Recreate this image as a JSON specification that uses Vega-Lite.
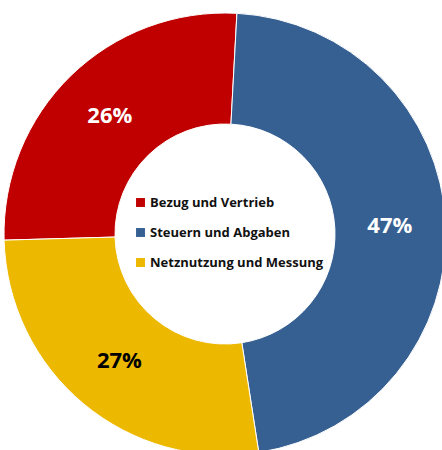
{
  "$schema": "https://vega.github.io/schema/vega-lite/v6.json",
  "width": 450,
  "height": 468,
  "padding": 0,
  "autosize": "none",
  "background": "white",
  "config": {"view": {"stroke": null}},
  "data": {"values": [
    {"category": "Bezug und Vertrieb", "value": 26.3, "label": "26%"},
    {"category": "Steuern und Abgaben", "value": 46.7, "label": "47%"},
    {"category": "Netznutzung und Messung", "value": 27.0, "label": "27%"}
  ]},
  "encoding": {
    "theta": {"field": "value", "type": "quantitative", "stack": true, "scale": {"range": [0.054, 6.337]}},
    "order": {"field": "value", "sort": "descending"}
  },
  "layer": [
    {
      "mark": {"type": "arc", "innerRadius": 110, "outerRadius": 221, "stroke": "white", "strokeWidth": 1},
      "encoding": {
        "color": {
          "field": "category", "type": "nominal",
          "scale": {"domain": ["Bezug und Vertrieb", "Steuern und Abgaben", "Netznutzung und Messung"], "range": ["#C00000", "#376092", "#EDB800"]},
          "legend": {
            "title": null, "orient": "none", "legendX": 134, "legendY": 196,
            "symbolType": "square", "symbolSize": 80, "symbolStrokeWidth": 0,
            "labelFont": "Open Sans", "labelFontWeight": "bold", "labelFontSize": 13, "labelColor": "#111",
            "rowPadding": 16, "labelOffset": 3, "labelLimit": 300
          }
        }
      }
    },
    {
      "mark": {"type": "text", "radius": 165, "font": "Open Sans", "fontWeight": "bold", "fontSize": 22, "align": "center", "baseline": "middle"},
      "encoding": {
        "text": {"field": "label"},
        "color": {"condition": {"test": "datum.category === 'Netznutzung und Messung'", "value": "#000000"}, "value": "#ffffff"}
      }
    }
  ]
}
